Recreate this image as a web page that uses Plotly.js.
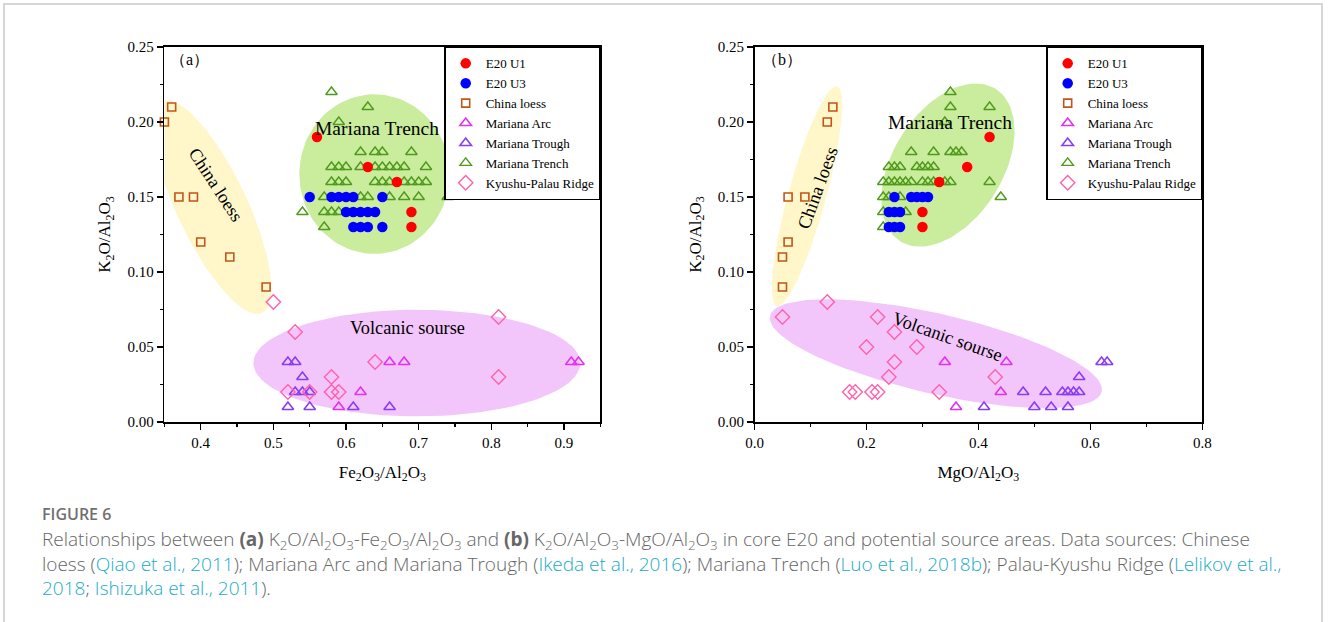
<!DOCTYPE html>
<html>
<head>
<meta charset="utf-8">
<script src="https://cdn.plot.ly/plotly-3.0.1.min.js"></script>
<style>html,body{margin:0;padding:0;background:#fff;}#chart{width:1328px;height:622px;}</style>
</head>
<body>
<div id="chart"></div>
<script>
// ---------- Panel (a): K2O/Al2O3 vs Fe2O3/Al2O3 ----------
const a_u1_x = [0.56, 0.63, 0.67, 0.69, 0.69];
const a_u1_y = [0.19, 0.17, 0.16, 0.14, 0.13];
const a_u3_x = [0.55, 0.58, 0.59, 0.60, 0.61, 0.65, 0.60, 0.61, 0.62, 0.63, 0.64, 0.61, 0.62, 0.63, 0.65];
const a_u3_y = [0.15, 0.15, 0.15, 0.15, 0.15, 0.15, 0.14, 0.14, 0.14, 0.14, 0.14, 0.13, 0.13, 0.13, 0.13];
const a_loess_x = [0.35, 0.36, 0.37, 0.39, 0.40, 0.44, 0.49];
const a_loess_y = [0.20, 0.21, 0.15, 0.15, 0.12, 0.11, 0.09];
const a_arc_x = [0.66, 0.68, 0.91, 0.92, 0.62, 0.59];
const a_arc_y = [0.04, 0.04, 0.04, 0.04, 0.02, 0.01];
const a_trough_x = [0.52, 0.53, 0.54, 0.53, 0.54, 0.55, 0.52, 0.55, 0.61, 0.66];
const a_trough_y = [0.04, 0.04, 0.03, 0.02, 0.02, 0.02, 0.01, 0.01, 0.01, 0.01];
const a_trench_x = [0.58, 0.63, 0.59,
  0.62, 0.64, 0.65, 0.69,
  0.58, 0.59, 0.60, 0.62, 0.64, 0.65, 0.66, 0.67, 0.68, 0.71,
  0.58, 0.59, 0.60, 0.64, 0.65, 0.66, 0.68, 0.69, 0.70, 0.71,
  0.57, 0.62, 0.63, 0.66, 0.68, 0.70, 0.74,
  0.54, 0.57, 0.58, 0.59,
  0.57];
const a_trench_y = [0.22, 0.21, 0.20,
  0.18, 0.18, 0.18, 0.18,
  0.17, 0.17, 0.17, 0.17, 0.17, 0.17, 0.17, 0.17, 0.17, 0.17,
  0.16, 0.16, 0.16, 0.16, 0.16, 0.16, 0.16, 0.16, 0.16, 0.16,
  0.15, 0.15, 0.15, 0.15, 0.15, 0.15, 0.15,
  0.14, 0.14, 0.14, 0.14,
  0.13];
const a_kpr_x = [0.50, 0.53, 0.81, 0.64, 0.58, 0.81, 0.52, 0.55, 0.58, 0.59];
const a_kpr_y = [0.08, 0.06, 0.07, 0.04, 0.03, 0.03, 0.02, 0.02, 0.02, 0.02];

// ---------- Panel (b): K2O/Al2O3 vs MgO/Al2O3 ----------
const b_u1_x = [0.42, 0.38, 0.33, 0.30, 0.30];
const b_u1_y = [0.19, 0.17, 0.16, 0.14, 0.13];
const b_u3_x = [0.25, 0.28, 0.29, 0.30, 0.31, 0.24, 0.25, 0.26, 0.24, 0.25, 0.26];
const b_u3_y = [0.15, 0.15, 0.15, 0.15, 0.15, 0.14, 0.14, 0.14, 0.13, 0.13, 0.13];
const b_loess_x = [0.14, 0.13, 0.06, 0.09, 0.06, 0.05, 0.05];
const b_loess_y = [0.21, 0.20, 0.15, 0.15, 0.12, 0.11, 0.09];
const b_arc_x = [0.34, 0.45, 0.44, 0.36];
const b_arc_y = [0.04, 0.04, 0.02, 0.01];
const b_trough_x = [0.62, 0.63, 0.58, 0.48, 0.52, 0.55, 0.56, 0.57, 0.58, 0.41, 0.50, 0.53, 0.56];
const b_trough_y = [0.04, 0.04, 0.03, 0.02, 0.02, 0.02, 0.02, 0.02, 0.02, 0.01, 0.01, 0.01, 0.01];
const b_trench_x = [0.35, 0.35, 0.42, 0.34,
  0.28, 0.32, 0.35, 0.36, 0.37,
  0.24, 0.25, 0.26, 0.29, 0.30, 0.31, 0.32,
  0.23, 0.24, 0.25, 0.26, 0.27, 0.28, 0.30, 0.31, 0.32, 0.34, 0.35, 0.42,
  0.23, 0.24, 0.26, 0.44,
  0.23, 0.27,
  0.23];
const b_trench_y = [0.22, 0.21, 0.21, 0.20,
  0.18, 0.18, 0.18, 0.18, 0.18,
  0.17, 0.17, 0.17, 0.17, 0.17, 0.17, 0.17,
  0.16, 0.16, 0.16, 0.16, 0.16, 0.16, 0.16, 0.16, 0.16, 0.16, 0.16, 0.16,
  0.15, 0.15, 0.15, 0.15,
  0.14, 0.14,
  0.13];
const b_kpr_x = [0.05, 0.13, 0.22, 0.25, 0.20, 0.29, 0.25, 0.24, 0.43, 0.17, 0.18, 0.21, 0.22, 0.33];
const b_kpr_y = [0.07, 0.08, 0.07, 0.06, 0.05, 0.05, 0.04, 0.03, 0.03, 0.02, 0.02, 0.02, 0.02, 0.02];

// Series names (legend labels)
const seriesNames = ["E20 U1", "E20 U3", "China loess", "Mariana Arc", "Mariana Trough", "Mariana Trench", "Kyushu-Palau Ridge"];

// Shaded source-area ellipses: [centre x, centre y, semi-axis A (dx, dy), semi-axis B (dx, dy)] in data units
const a_regions = {
  loess:   [0.4156, 0.1433, 0.0689, -0.0706, 0.0437, 0.0100],
  trench:  [0.639, 0.1653, 0.1033, 0.0, 0.0, 0.0532],
  volcano: [0.6975, 0.0393, 0.225, 0.0, 0.0, 0.0355]
};
const b_regions = {
  loess:   [0.0938, 0.1506, 0.0536, 0.0732, 0.0327, -0.0033],
  trench:  [0.3455, 0.1713, 0.0852, 0.0508, 0.0832, -0.0194],
  volcano: [0.324, 0.0455, 0.2964, -0.0253, 0.016, 0.026]
};
const regionColors = {
  loess: "rgba(255,246,196,0.9)",
  trench: "rgba(196,234,146,0.9)",
  volcano: "rgba(241,192,250,0.9)"
};

// ---------- build ----------
const serif = "Liberation Serif, Times New Roman, serif";
const styles = {
  u1:     {symbol: "circle", size: 10.5, color: "#ff0000", line: {width: 0}},
  u3:     {symbol: "circle", size: 10.5, color: "#0000ff", line: {width: 0}},
  loess:  {symbol: "square-open", size: 8, color: "#c0561a", line: {width: 1.6, color: "#c0561a"}},
  arc:    {symbol: "triangle-up-open", size: 10, color: "#e032f0", line: {width: 1.6, color: "#e032f0"}},
  trough: {symbol: "triangle-up-open", size: 10, color: "#8a3cf5", line: {width: 1.6, color: "#8a3cf5"}},
  trench: {symbol: "triangle-up-open", size: 10, color: "#4f9a1c", line: {width: 1.4, color: "#4f9a1c"}},
  kpr:    {symbol: "diamond-open", size: 11, color: "#ff62aa", line: {width: 1.4, color: "#ff62aa"}}
};

function ellipseTrace(p, color, xa, ya) {
  const xs = [], ys = [];
  const n = 120;
  for (let i = 0; i <= n; i++) {
    const t = 2 * Math.PI * i / n;
    xs.push(p[0] + p[2] * Math.cos(t) + p[4] * Math.sin(t));
    ys.push(p[1] + p[3] * Math.cos(t) + p[5] * Math.sin(t));
  }
  return {x: xs, y: ys, xaxis: xa, yaxis: ya, type: "scatter", mode: "lines",
    fill: "toself", fillcolor: color, line: {width: 0}, hoverinfo: "skip", showlegend: false};
}

function pt(name, rank, x, y, st, xa, ya, leg) {
  return {x: x, y: y, name: name, type: "scatter", mode: "markers", xaxis: xa, yaxis: ya,
    legend: leg, legendrank: rank, cliponaxis: false,
    marker: {symbol: st.symbol, size: st.size, color: st.color, line: st.line}};
}

const traces = [];
["loess", "trench", "volcano"].forEach(k => traces.push(ellipseTrace(a_regions[k], regionColors[k], "x", "y")));
["loess", "trench", "volcano"].forEach(k => traces.push(ellipseTrace(b_regions[k], regionColors[k], "x2", "y2")));

function panel(d, xa, ya, leg) {
  traces.push(pt(seriesNames[2], 3, d.loess[0], d.loess[1], styles.loess, xa, ya, leg));
  traces.push(pt(seriesNames[5], 6, d.trench[0], d.trench[1], styles.trench, xa, ya, leg));
  traces.push(pt(seriesNames[3], 4, d.arc[0], d.arc[1], styles.arc, xa, ya, leg));
  traces.push(pt(seriesNames[4], 5, d.trough[0], d.trough[1], styles.trough, xa, ya, leg));
  traces.push(pt(seriesNames[6], 7, d.kpr[0], d.kpr[1], styles.kpr, xa, ya, leg));
  traces.push(pt(seriesNames[1], 2, d.u3[0], d.u3[1], styles.u3, xa, ya, leg));
  traces.push(pt(seriesNames[0], 1, d.u1[0], d.u1[1], styles.u1, xa, ya, leg));
}
panel({loess: [a_loess_x, a_loess_y], trench: [a_trench_x, a_trench_y], arc: [a_arc_x, a_arc_y],
  trough: [a_trough_x, a_trough_y], kpr: [a_kpr_x, a_kpr_y], u3: [a_u3_x, a_u3_y], u1: [a_u1_x, a_u1_y]}, "x", "y", "legend");
panel({loess: [b_loess_x, b_loess_y], trench: [b_trench_x, b_trench_y], arc: [b_arc_x, b_arc_y],
  trough: [b_trough_x, b_trough_y], kpr: [b_kpr_x, b_kpr_y], u3: [b_u3_x, b_u3_y], u1: [b_u1_x, b_u1_y]}, "x2", "y2", "legend2");

const W = 1328, H = 622, T = 47, B = 200;
const plotH = H - T - B;
const px = v => v / W;
const py = v => (H - B - v) / plotH;

function axisCommon() {
  return {showline: true, linecolor: "#000", linewidth: 1.6, mirror: true, ticks: "outside",
    ticklen: 6, tickwidth: 1.5, tickcolor: "#000", showgrid: false, zeroline: false,
    tickfont: {family: serif, size: 15, color: "#000"},
    minor: {ticks: "outside", ticklen: 3, tickwidth: 1.2, tickcolor: "#000", showgrid: false}};
}
const k2o = "K<sub>2</sub>O/Al<sub>2</sub>O<sub>3</sub>";
const titleFont = {family: serif, size: 17, color: "#000"};

const xa = Object.assign(axisCommon(), {domain: [px(164.4), px(600.3)], range: [0.35, 0.95], dtick: 0.1, tick0: 0,
  tickformat: ".1f", anchor: "y", title: {text: "Fe<sub>2</sub>O<sub>3</sub>/Al<sub>2</sub>O<sub>3</sub>", font: titleFont, standoff: 16}});
xa.minor.dtick = 0.05;
const ya = Object.assign(axisCommon(), {domain: [0, 1], range: [0, 0.25], dtick: 0.05, tick0: 0,
  tickformat: ".2f", anchor: "x", title: {text: k2o, font: titleFont, standoff: 12}});
ya.minor.dtick = 0.025;
const xb = Object.assign(axisCommon(), {domain: [px(754.5), px(1202.3)], range: [0, 0.8], dtick: 0.2, tick0: 0,
  tickformat: ".1f", anchor: "y2", title: {text: "MgO/Al<sub>2</sub>O<sub>3</sub>", font: titleFont, standoff: 16}});
xb.minor.dtick = 0.1;
const yb = Object.assign(axisCommon(), {domain: [0, 1], range: [0, 0.25], dtick: 0.05, tick0: 0,
  tickformat: ".2f", anchor: "x2", title: {text: k2o, font: titleFont, standoff: 12}});
yb.minor.dtick = 0.025;

function legendCfg(xr) {
  return {x: px(xr), xanchor: "right", y: 1, yanchor: "top", bgcolor: "#fff", bordercolor: "#000",
    borderwidth: 1.4, font: {family: serif, size: 13, color: "#000"}, itemclick: false, tracegroupgap: 0};
}

const capGrey = "#666666";
const link = s => "<span style='color:#1aabc7'>" + s + "</span>";
const capFont = {family: "Open Sans, Noto Sans, sans-serif", size: 19, weight: 300, color: capGrey};

const captionLines = [
  "Relationships between <b>(a)</b> K<sub>2</sub>O/Al<sub>2</sub>O<sub>3</sub>-Fe<sub>2</sub>O<sub>3</sub>/Al<sub>2</sub>O<sub>3</sub> and <b>(b)</b> K<sub>2</sub>O/Al<sub>2</sub>O<sub>3</sub>-MgO/Al<sub>2</sub>O<sub>3</sub> in core E20 and potential source areas. Data sources: Chinese",
  "loess (" + link("Qiao et al., 2011") + "); Mariana Arc and Mariana Trough (" + link("Ikeda et al., 2016") + "); Mariana Trench (" + link("Luo et al., 2018b") + "); Palau-Kyushu Ridge (" + link("Lelikov et al.,"),
  link("2018") + "; " + link("Ishizuka et al., 2011") + ")."
];

const ann = [
  {text: "（a）", x: 0.385, y: 0.2418, xref: "x", yref: "y", showarrow: false, font: {family: serif, size: 16, color: "#000"}},
  {text: "China loess", x: 0.421, y: 0.158, xref: "x", yref: "y", showarrow: false, textangle: 57, font: {family: serif, size: 18, color: "#000"}},
  {text: "Mariana Trench", x: 0.6425, y: 0.196, xref: "x", yref: "y", showarrow: false, font: {family: serif, size: 19.5, color: "#000"}},
  {text: "Volcanic sourse", x: 0.684, y: 0.0626, xref: "x", yref: "y", showarrow: false, font: {family: serif, size: 18.3, color: "#000"}},
  {text: "（b）", x: 0.049, y: 0.2418, xref: "x2", yref: "y2", showarrow: false, font: {family: serif, size: 16, color: "#000"}},
  {text: "China loess", x: 0.113, y: 0.156, xref: "x2", yref: "y2", showarrow: false, textangle: -70, font: {family: serif, size: 18.5, color: "#000"}},
  {text: "Mariana Trench", x: 0.349, y: 0.200, xref: "x2", yref: "y2", showarrow: false, font: {family: serif, size: 19.5, color: "#000"}},
  {text: "Volcanic sourse", x: 0.3455, y: 0.0568, xref: "x2", yref: "y2", showarrow: false, textangle: 19.5, font: {family: serif, size: 18.3, color: "#000"}},
  {text: "FIGURE 6", x: px(40), y: py(514), xref: "paper", yref: "paper", xanchor: "left", yanchor: "middle", showarrow: false,
    font: {family: "Open Sans, Noto Sans, sans-serif", size: 16, weight: 600, color: "#707070"}},
  {text: captionLines.join("<br>"), align: "left",
    x: px(40), y: py(563), xref: "paper", yref: "paper", xanchor: "left", yanchor: "middle", showarrow: false, font: capFont}
];

const layout = {
  width: W, height: H,
  margin: {l: 0, r: 0, t: T, b: B, pad: 0},
  paper_bgcolor: "#fff", plot_bgcolor: "rgba(0,0,0,0)",
  showlegend: true,
  xaxis: xa, yaxis: ya, xaxis2: xb, yaxis2: yb,
  legend: legendCfg(600.3),
  legend2: legendCfg(1202.3),
  annotations: ann,
  shapes: [{type: "rect", xref: "paper", yref: "paper", x0: px(4), x1: px(1322), y0: py(660), y1: py(4),
    line: {color: "#d6d6d6", width: 2}, fillcolor: "rgba(0,0,0,0)", layer: "below"}]
};

Plotly.newPlot("chart", traces, layout, {displayModeBar: false, staticPlot: true});
</script>
</body>
</html>
